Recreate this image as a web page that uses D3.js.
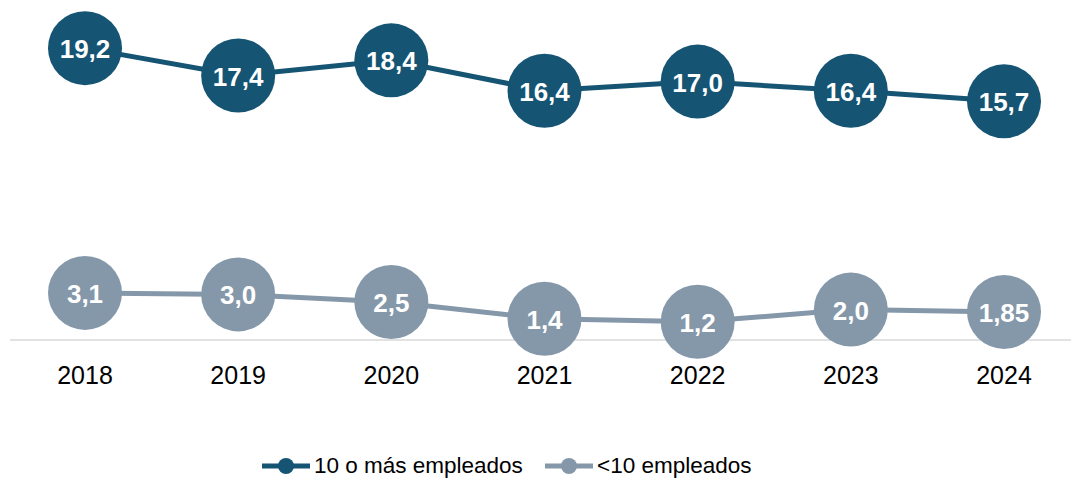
<!DOCTYPE html>
<html>
<head>
<meta charset="utf-8">
<script src="https://cdn.jsdelivr.net/npm/d3@7"></script>
<style>
  body { margin: 0; background: #fff; }
  text { font-family: "Liberation Sans", Arial, sans-serif; }
</style>
</head>
<body>
<svg class="main" width="1071" height="478"></svg>
<script>
var years = ["2018", "2019", "2020", "2021", "2022", "2023", "2024"];
var bigValues = [19.2, 17.4, 18.4, 16.4, 17.0, 16.4, 15.7];
var bigLabels = ["19,2", "17,4", "18,4", "16,4", "17,0", "16,4", "15,7"];
var smallValues = [3.1, 3.0, 2.5, 1.4, 1.2, 2.0, 1.85];
var smallLabels = ["3,1", "3,0", "2,5", "1,4", "1,2", "2,0", "1,85"];
var seriesNames = ["10 o más empleados", "<10 empleados"];
var colors = ["#155473", "#8598aa"];

var svg = d3.select("svg.main");

var x = d3.scalePoint().domain(years).range([85, 1004]);
var y = d3.scaleLinear().domain([0, 20]).range([340, 36]);

// baseline
svg.append("line")
  .attr("x1", 10).attr("x2", 1071)
  .attr("y1", y(0)).attr("y2", y(0))
  .attr("stroke", "#d9d9d9").attr("stroke-width", 1.5);

// year labels
svg.selectAll("text.year")
  .data(years)
  .enter().append("text")
  .attr("class", "year")
  .attr("x", function (d) { return x(d); })
  .attr("y", 384)
  .attr("text-anchor", "middle")
  .attr("font-size", 25)
  .attr("fill", "#000")
  .text(function (d) { return d; });

function drawSeries(values, labels, color) {
  var pts = years.map(function (d, i) { return [x(d), y(values[i])]; });
  svg.append("path")
    .attr("d", d3.line()(pts))
    .attr("fill", "none")
    .attr("stroke", color)
    .attr("stroke-width", 5);

  var g = svg.append("g");
  g.selectAll("circle")
    .data(pts)
    .enter().append("circle")
    .attr("cx", function (d) { return d[0]; })
    .attr("cy", function (d) { return d[1]; })
    .attr("r", 37)
    .attr("fill", color);

  g.selectAll("text")
    .data(pts)
    .enter().append("text")
    .attr("x", function (d) { return d[0]; })
    .attr("y", function (d) { return d[1] + 10; })
    .attr("text-anchor", "middle")
    .attr("font-size", 26)
    .attr("font-weight", "bold")
    .attr("fill", "#fff")
    .text(function (d, i) { return labels[i]; });
}

drawSeries(bigValues, bigLabels, colors[0]);
drawSeries(smallValues, smallLabels, colors[1]);

// legend
var legendX = [262, 545];
seriesNames.forEach(function (name, i) {
  var lg = svg.append("g").attr("transform", "translate(" + legendX[i] + ",466)");
  lg.append("line")
    .attr("x1", 0).attr("x2", 48)
    .attr("stroke", colors[i]).attr("stroke-width", 5);
  lg.append("circle")
    .attr("cx", 24).attr("r", 8)
    .attr("fill", colors[i]);
  lg.append("text")
    .attr("x", 52)
    .attr("y", 7)
    .attr("font-size", 22.5)
    .attr("fill", "#000")
    .text(name);
});
</script>
</body>
</html>
